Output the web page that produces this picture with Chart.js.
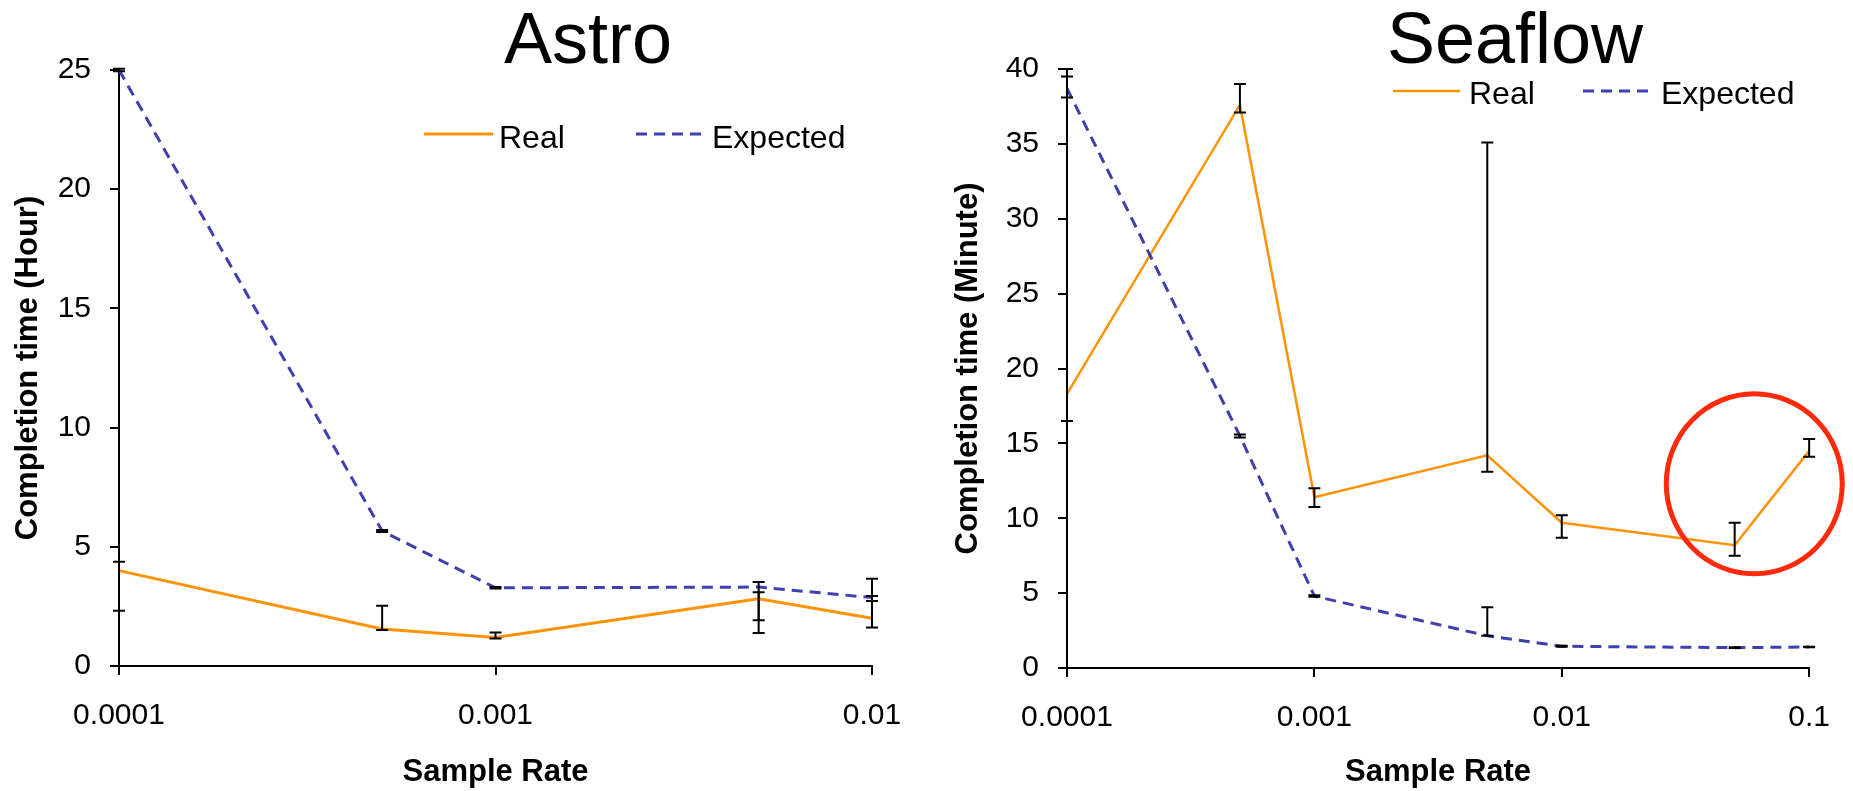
<!DOCTYPE html>
<html>
<head>
<meta charset="utf-8">
<script src="https://cdn.jsdelivr.net/npm/chart.js@4/dist/chart.umd.min.js"></script>
<style>
  html, body { margin: 0; padding: 0; background: #ffffff; width: 1853px; height: 791px; overflow: hidden; }
  .panel { position: absolute; top: 0; height: 791px; }
  #astroWrap { left: 0; width: 926px; }
  #seaWrap { left: 926px; width: 927px; }
</style>
</head>
<body>
<div id="astroWrap" class="panel"><canvas id="astro" width="926" height="791"></canvas></div>
<div id="seaWrap" class="panel"><canvas id="seaflow" width="927" height="791"></canvas></div>
<script>
// ---------------- DATA ----------------
const seriesNames = ['Real', 'Expected'];
const xTickValues = [0.0001, 0.001, 0.01, 0.1];
const xTickLabels = ['0.0001', '0.001', '0.01', '0.1'];

// Astro (hours)
const astroRates = [0.0001, 0.0005, 0.001, 0.005, 0.01];
const astroReal = [4.0, 1.55, 1.2, 2.82, 2.0];
const astroRealLow = [2.32, 1.51, 1.15, 1.38, 1.62];
const astroRealHigh = [4.37, 2.53, 1.40, 3.09, 2.94];
const astroExpected = [25.0, 5.66, 3.28, 3.31, 2.87];
const astroExpectedLow = [24.95, 5.62, 3.25, 1.92, 2.73];
const astroExpectedHigh = [25.05, 5.70, 3.31, 3.52, 3.66];
const astroYTicks = [0, 5, 10, 15, 20, 25];

// Seaflow (minutes)
const seaRates = [0.0001, 0.0005, 0.001, 0.005, 0.01, 0.05, 0.1];
const seaReal = [18.3, 37.6, 11.4, 14.2, 9.7, 8.2, 14.5];
const seaRealLow = [16.5, 37.1, 10.75, 13.1, 8.7, 7.5, 14.1];
const seaRealHigh = [40.0, 39.0, 12.0, 35.1, 10.2, 9.7, 15.3];
const seaExpected = [38.7, 15.5, 4.8, 2.15, 1.45, 1.36, 1.40];
const seaExpectedLow = [38.1, 15.4, 4.75, 2.15, 1.42, 1.33, 1.38];
const seaExpectedHigh = [39.5, 15.6, 4.85, 4.05, 1.48, 1.38, 1.42];
const seaYTicks = [0, 5, 10, 15, 20, 25, 30, 35, 40];

// highlighted region (data coordinates of the circle centre)
const highlightX = 0.06;
const highlightY = 12.3;

// ---------------- STYLE ----------------
const FONT = "'Liberation Sans', Arial, Helvetica, sans-serif";
const ORANGE = '#FF9306';
const BLUE = '#3F3FAF';

// ---------------- PLUGINS ----------------
const errorBars = {
  id: 'errorBars',
  afterDatasetsDraw(chart, args, opts) {
    const { ctx } = chart;
    const xs = chart.scales.x, ys = chart.scales.y;
    ctx.save();
    ctx.strokeStyle = opts.color;
    ctx.lineWidth = opts.lineWidth;
    ctx.setLineDash([]);
    chart.data.datasets.forEach(ds => {
      if (!ds.errLow) return;
      ds.data.forEach((p, i) => {
        const px = xs.getPixelForValue(p.x);
        const yl = ys.getPixelForValue(ds.errLow[i]);
        const yh = ys.getPixelForValue(ds.errHigh[i]);
        const w = opts.capHalf;
        ctx.beginPath();
        ctx.moveTo(px, yl); ctx.lineTo(px, yh);
        ctx.moveTo(px - w, yl); ctx.lineTo(px + w, yl);
        ctx.moveTo(px - w, yh); ctx.lineTo(px + w, yh);
        ctx.stroke();
      });
    });
    ctx.restore();
  }
};

const panelTitle = {
  id: 'panelTitle',
  afterDraw(chart, args, opts) {
    const { ctx } = chart;
    ctx.save();
    ctx.fillStyle = '#000';
    ctx.font = opts.size + 'px ' + FONT;
    ctx.textAlign = 'center';
    ctx.textBaseline = 'alphabetic';
    ctx.fillText(opts.text, opts.x, opts.y);
    ctx.restore();
  }
};

const lineLegend = {
  id: 'lineLegend',
  afterDraw(chart, args, opts) {
    const { ctx } = chart;
    ctx.save();
    chart.data.datasets.forEach((ds, i) => {
      const it = opts.items[i];
      ctx.strokeStyle = ds.borderColor;
      ctx.lineWidth = ds.borderWidth;
      ctx.setLineDash(ds.borderDash || []);
      ctx.beginPath();
      ctx.moveTo(it.x0, opts.lineY);
      ctx.lineTo(it.x1, opts.lineY);
      ctx.stroke();
      ctx.setLineDash([]);
      ctx.fillStyle = '#000';
      ctx.font = opts.size + 'px ' + FONT;
      ctx.textAlign = 'left';
      ctx.textBaseline = 'alphabetic';
      ctx.fillText(ds.label, it.tx, opts.textY);
    });
    ctx.restore();
  }
};

const highlight = {
  id: 'highlight',
  afterDraw(chart, args, opts) {
    if (!opts || !opts.show) return;
    const { ctx } = chart;
    const cx = chart.scales.x.getPixelForValue(opts.xValue);
    const cy = chart.scales.y.getPixelForValue(opts.yValue);
    ctx.save();
    ctx.strokeStyle = opts.color;
    ctx.lineWidth = opts.lineWidth;
    ctx.beginPath();
    ctx.ellipse(cx, cy, opts.rx, opts.ry, 0, 0, Math.PI * 2);
    ctx.stroke();
    ctx.restore();
  }
};

// ---------------- BUILDER ----------------
function pts(xs, ys) { return xs.map((x, i) => ({ x: x, y: ys[i] })); }

function makeChart(id, cfg) {
  const tickFont = { family: FONT, size: 30 };
  const titleFont = { family: FONT, size: 31, weight: 'bold' };
  return new Chart(document.getElementById(id), {
    type: 'line',
    data: {
      datasets: [
        {
          label: seriesNames[0],
          data: pts(cfg.rates, cfg.real),
          errLow: cfg.realLow, errHigh: cfg.realHigh,
          borderColor: ORANGE, backgroundColor: ORANGE,
          borderWidth: cfg.realWidth, pointRadius: 0, tension: 0, fill: false,
          clip: false, order: 1
        },
        {
          label: seriesNames[1],
          data: pts(cfg.rates, cfg.expected),
          errLow: cfg.expLow, errHigh: cfg.expHigh,
          borderColor: BLUE, backgroundColor: BLUE,
          borderWidth: 3, borderDash: [11, 7], pointRadius: 0, tension: 0, fill: false,
          clip: false, order: 0
        }
      ]
    },
    plugins: [errorBars, panelTitle, lineLegend, highlight],
    options: {
      responsive: false,
      animation: false,
      devicePixelRatio: 1,
      layout: { padding: { left: 0, top: cfg.padTop, right: cfg.padRight, bottom: 0 } },
      scales: {
        x: {
          type: 'logarithmic',
          min: cfg.xMin, max: cfg.xMax,
          afterBuildTicks: s => { s.ticks = xTickValues.filter(v => v >= cfg.xMin && v <= cfg.xMax).map(v => ({ value: v })); },
          afterFit: s => { s.height = cfg.xHeight; },
          ticks: {
            color: '#000', font: tickFont, padding: 23, maxRotation: 0, autoSkip: false,
            callback: (v) => { const k = xTickValues.indexOf(v); return k >= 0 ? xTickLabels[k] : ''; }
          },
          grid: { display: true, drawOnChartArea: false, drawTicks: true, tickLength: 9, color: '#000', lineWidth: 2 },
          border: { display: true, color: '#000', width: 2 },
          title: { display: true, text: 'Sample Rate', color: '#000', font: titleFont, padding: { top: 0, bottom: 0 } }
        },
        y: {
          type: 'linear',
          min: 0, max: cfg.yMax,
          afterBuildTicks: s => { s.ticks = cfg.yTicks.map(v => ({ value: v })); },
          afterFit: s => { s.width = cfg.yWidth; },
          ticks: { color: '#000', font: tickFont, padding: 19 },
          grid: { display: true, drawOnChartArea: false, drawTicks: true, tickLength: 9, color: '#000', lineWidth: 2 },
          border: { display: true, color: '#000', width: 2 },
          title: { display: true, text: cfg.yTitle, color: '#000', font: titleFont, padding: { top: cfg.yTitlePad, bottom: 0 } }
        }
      },
      plugins: {
        legend: { display: false },
        tooltip: { enabled: false },
        errorBars: { color: '#000', lineWidth: 2, capHalf: 6 },
        panelTitle: { text: cfg.title, x: cfg.titleX, y: 63, size: 72 },
        lineLegend: cfg.legend,
        highlight: cfg.highlight
      }
    }
  });
}

makeChart('astro', {
  title: 'Astro', titleX: 588,
  rates: astroRates, real: astroReal, realLow: astroRealLow, realHigh: astroRealHigh,
  expected: astroExpected, expLow: astroExpectedLow, expHigh: astroExpectedHigh,
  realWidth: 3,
  xMin: 0.0001, xMax: 0.01, yMax: 25, yTicks: astroYTicks,
  yTitle: 'Completion time (Hour)', yTitlePad: 10,
  padTop: 70, padRight: 54, yWidth: 119, xHeight: 125,
  legend: { size: 32, lineY: 134, textY: 148, items: [ { x0: 424, x1: 493, tx: 499 }, { x0: 636, x1: 703, tx: 712 } ] },
  highlight: { show: false }
});

makeChart('seaflow', {
  title: 'Seaflow', titleX: 589,
  rates: seaRates, real: seaReal, realLow: seaRealLow, realHigh: seaRealHigh,
  expected: seaExpected, expLow: seaExpectedLow, expHigh: seaExpectedHigh,
  realWidth: 2.5,
  xMin: 0.0001, xMax: 0.1, yMax: 40, yTicks: seaYTicks,
  yTitle: 'Completion time (Minute)', yTitlePad: 24,
  padTop: 69, padRight: 43, yWidth: 141, xHeight: 123,
  legend: { size: 32, lineY: 91, textY: 104, items: [ { x0: 467, x1: 534, tx: 543 }, { x0: 657, x1: 724, tx: 735 } ] },
  highlight: { show: true, xValue: highlightX, yValue: highlightY, rx: 88, ry: 90, color: '#FF2A0A', lineWidth: 5 }
});
</script>
</body>
</html>
